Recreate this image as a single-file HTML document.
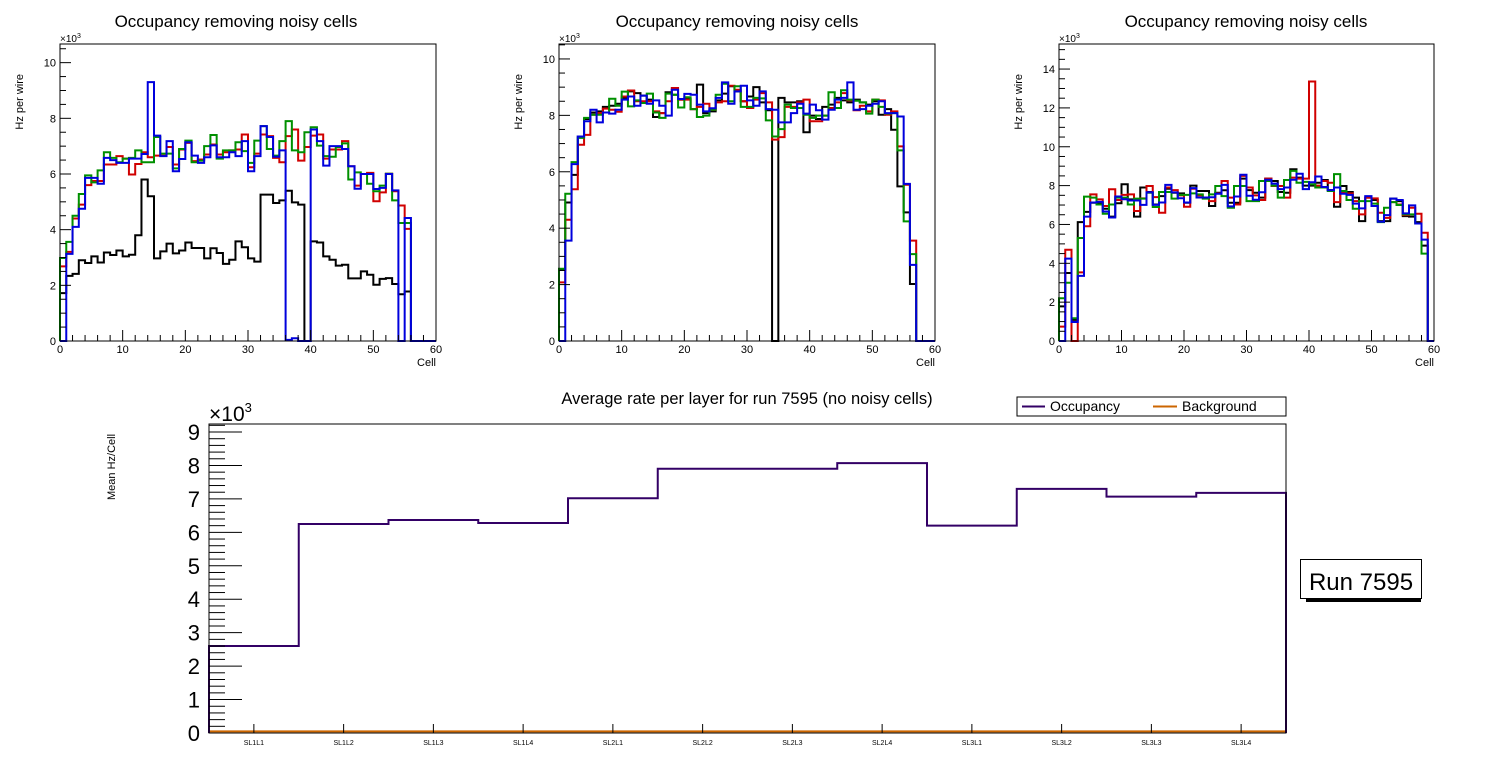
<!DOCTYPE html>
<html><head><meta charset="utf-8"><style>
body{margin:0;background:#fff;}
svg{display:block;font-family:"Liberation Sans",Arial,sans-serif;}
</style></head><body>
<svg id="root" width="1496" height="772" viewBox="0 0 1496 772" xmlns="http://www.w3.org/2000/svg"></svg>
<script>
// ---------- data ----------
const cells = Array.from({length:60},(_,i)=>i);
// Panel 1 (values in thousands of Hz per wire)
const p1Black=[1.72,2.34,2.41,2.9,2.8,3.04,2.82,3.18,3.09,3.25,3.04,3.1,3.8,5.8,5.2,2.97,3.22,3.5,3.15,3.25,3.54,3.34,3.34,2.97,3.33,3.16,2.77,2.92,3.58,3.37,2.97,2.85,5.26,5.26,4.96,5.05,5.4,4.98,4.9,0,3.58,3.54,3.04,2.92,2.71,2.74,2.25,2.25,2.5,2.38,2.02,2.23,2.26,2.05,1.68,1.78,0,0,0,0];
const p1Red=[2.68,3.2,4.4,4.9,5.6,5.75,5.75,6.34,6.34,6.64,6.55,5.98,6.36,6.78,6.6,6.66,6.66,6.97,6.34,6.88,7.12,6.46,6.52,6.7,7.06,6.7,6.78,6.85,6.88,7.42,6.24,6.73,7.42,7.36,6.58,6.42,7.36,7.6,6.48,6.97,7.38,7.42,6.55,6.88,6.88,7.18,6.28,5.58,6.0,6.04,5.02,5.34,6.01,5.38,4.87,4.03,0,0,0,0];
const p1Green=[2.98,3.56,4.5,5.28,5.95,5.7,6.13,6.78,6.58,6.42,6.55,6.58,6.85,6.42,6.42,7.33,6.73,6.73,6.2,6.9,7.2,6.42,6.48,7.0,7.4,6.55,6.85,6.85,7.14,6.82,6.4,7.2,7.72,6.9,6.66,7.18,7.9,6.85,6.78,7.5,7.68,7.02,6.64,6.62,6.97,7.1,5.8,6.06,6.0,5.65,5.38,5.58,6.01,5.05,4.24,4.24,0,0,0,0];
const p1Blue=[0,3.13,4.1,4.75,5.86,5.86,5.65,6.58,6.5,6.4,6.4,6.55,6.55,6.72,9.3,7.38,6.64,7.18,6.1,6.54,7.14,6.66,6.4,6.6,7.03,6.6,6.6,6.78,6.64,7.18,6.1,6.64,7.72,7.33,6.62,6.85,0.04,0.1,0,0,7.6,7.18,6.3,7.0,7.0,6.9,6.28,5.47,6.0,6.0,5.46,5.5,6.0,5.41,0,4.42,0,0,0,0];
// Panel 2
const p2Black=[2.52,4.91,5.89,7.25,7.87,8.1,8.14,8.3,8.34,8.41,8.62,8.85,8.79,8.7,8.56,7.94,8.08,8.82,8.73,8.56,8.58,8.22,9.09,8.08,8.14,8.53,8.77,9.03,8.85,8.5,8.67,9.0,8.46,8.18,0,8.62,8.46,8.46,8.5,7.4,7.99,7.87,8.3,8.38,8.62,8.53,8.46,8.56,8.46,8.38,8.5,8.02,8.22,7.49,5.48,4.56,2.02,0,0,0];
const p2Red=[2.08,4.3,5.38,6.96,7.31,8.02,8.08,8.24,8.2,8.13,8.67,8.88,8.5,8.5,8.5,8.14,8.08,8.5,8.97,8.56,8.56,8.22,8.3,8.41,8.2,8.46,8.5,9.05,8.91,8.5,8.26,8.56,8.79,8.46,7.14,7.23,8.3,8.3,8.46,8.56,7.79,7.79,7.99,8.26,8.46,8.79,8.53,8.18,8.34,8.14,8.56,8.53,8.02,8.14,6.9,5.54,3.56,0,0,0];
const p2Green=[2.56,5.22,6.34,7.2,7.91,8.02,8.02,8.1,8.59,8.34,8.84,8.32,8.53,8.44,8.77,8.1,7.91,8.77,8.73,8.28,8.64,8.22,7.94,7.99,8.2,8.73,9.12,8.5,9.03,8.3,8.3,8.62,8.6,7.82,7.25,7.51,8.38,8.26,8.26,8.02,7.91,7.99,7.99,8.82,8.26,8.89,8.56,8.52,8.46,8.06,8.56,8.3,8.06,8.08,6.76,4.24,3.08,0,0,0];
const p2Blue=[0,3.56,6.27,7.25,7.79,8.2,7.75,8.1,8.06,8.2,8.56,8.67,8.34,8.7,8.41,8.53,8.34,7.99,8.91,8.58,8.76,8.73,8.38,8.14,8.25,8.62,9.17,8.41,8.85,9.05,8.53,8.34,8.85,8.22,8.2,7.75,7.75,8.08,8.41,8.06,8.38,8.18,7.85,8.2,8.56,8.62,9.17,8.2,8.22,8.34,8.41,8.5,8.08,8.08,7.96,5.57,2.7,0,0,0];
// Panel 3
const p3Black=[1.78,3.5,1.09,6.12,6.65,7.12,7.12,6.81,6.4,7.09,8.07,7.29,6.4,7.9,7.67,7.03,7.46,7.84,7.63,7.6,7.12,8.0,7.72,7.72,6.95,7.63,7.76,7.12,7.12,8.36,7.77,7.63,7.38,8.36,8.24,7.67,7.63,8.84,8.41,8.0,8.0,8.15,8.29,7.77,6.91,7.98,7.67,7.38,6.17,7.38,7.26,6.17,6.17,7.33,7.2,6.43,6.4,6.12,4.91,0];
const p3Red=[0.74,4.7,0,3.53,5.91,7.55,7.29,6.95,7.81,7.26,7.52,7.55,6.69,7.34,7.98,7.41,6.6,7.9,7.77,7.5,6.91,7.84,7.5,7.38,7.2,7.6,8.24,7.38,7.03,8.5,7.9,7.5,7.26,8.36,7.98,7.98,7.38,8.41,8.36,8.36,13.36,8.0,8.24,8.15,7.15,7.67,7.6,7.2,6.52,7.38,7.34,6.6,6.34,7.15,7.03,6.48,6.86,6.55,5.57,0];
const p3Green=[2.2,3.0,1.17,5.3,7.43,7.38,7.03,6.55,7.03,7.38,7.38,7.03,7.33,7.33,7.63,6.9,7.67,7.67,7.33,7.52,7.52,7.6,7.55,7.33,7.55,7.98,7.46,6.86,7.98,7.98,7.2,7.2,8.24,8.24,8.0,7.38,8.29,8.76,8.15,8.19,8.07,7.9,7.9,7.72,8.59,7.72,7.26,6.81,7.2,7.2,7.07,6.12,6.86,7.15,7.0,6.52,6.52,6.05,4.5,0];
const p3Blue=[0,4.24,0.98,3.35,6.4,7.13,7.16,6.67,6.36,7.44,7.3,7.23,7.23,7.01,7.66,7.01,7.13,8.04,7.65,7.35,7.13,7.87,7.39,7.39,7.4,7.58,8.04,6.93,7.44,8.56,7.48,7.27,7.66,8.3,8.1,7.82,7.9,8.3,8.61,7.82,8.17,8.47,7.93,7.77,7.9,7.58,7.52,7.07,6.83,7.46,6.95,6.14,6.48,7.33,7.26,6.57,6.98,6.05,5.22,0];
// Bottom chart
const layers=["SL1L1","SL1L2","SL1L3","SL1L4","SL2L1","SL2L2","SL2L3","SL2L4","SL3L1","SL3L2","SL3L3","SL3L4"];
const occupancy=[2.6,6.25,6.37,6.28,7.02,7.9,7.9,8.07,6.2,7.3,7.07,7.18];
const background=[0.05,0.05,0.05,0.05,0.05,0.05,0.05,0.05,0.05,0.05,0.05,0.05];
const bottomTicks=[0,1,2,3,4,5,6,7,8,9];

// ---------- helpers ----------
const NS="http://www.w3.org/2000/svg";
const root=document.getElementById('root');
function el(tag,attrs,parent,text){const e=document.createElementNS(NS,tag);for(const k in attrs)e.setAttribute(k,attrs[k]);if(text!==undefined)e.textContent=text;(parent||root).appendChild(e);return e;}
function histPath(vals,xs,ys,x0){let d='M'+xs(x0)+','+ys(0);vals.forEach((v,i)=>{d+=' L'+xs(x0+i)+','+ys(v)+' L'+xs(x0+i+1)+','+ys(v);});d+=' L'+xs(x0+vals.length)+','+ys(0);return d;}

function panel(idx,F,titleX,ymax,yMajor,yLabels,series){
  const g=el('g',{});
  
  
  const xs=v=>F.l+(F.r-F.l)*v/60, ys=v=>F.b-(F.b-F.t)*v/ymax;
  const t=el('text',{x:titleX,y:27,'font-size':17,'text-anchor':'middle'},g,'Occupancy removing noisy cells');
  
  
  series.forEach(s=>{
    const p=el('path',{d:histPath(s.v,xs,ys,0),fill:'none',stroke:s.c,'stroke-width':2},g);
    
    
  });
  el('rect',{x:F.l,y:F.t,width:F.r-F.l,height:F.b-F.t,fill:'none',stroke:'#000','stroke-width':1},g);
  for(let v=0;v<=ymax+1e-9;v+=0.5){const major=Math.abs(v/yMajor-Math.round(v/yMajor))<1e-6;el('line',{x1:F.l,x2:F.l+(major?11:6),y1:ys(v),y2:ys(v),stroke:'#000','stroke-width':1},g);}
  yLabels.forEach(v=>{const tl=el('text',{x:F.l-4,y:ys(v)+4,'font-size':11,'text-anchor':'end'},g,String(v));});
  for(let v=0;v<=60;v+=2){const major=v%10===0;el('line',{x1:xs(v),x2:xs(v),y1:F.b,y2:F.b-(major?11:6),stroke:'#000','stroke-width':1},g);}
  [0,10,20,30,40,50,60].forEach(v=>{const tl=el('text',{x:xs(v),y:F.b+12,'font-size':11,'text-anchor':'middle'},g,String(v));});
  const ex=el('text',{x:F.l,y:F.t-2,'font-size':10},g,'×10');el('tspan',{dy:-4,'font-size':7},ex,'3');
  
  const xl=el('text',{x:F.r,y:F.b+25,'font-size':11,'text-anchor':'end'},g,'Cell');
  
  const yx=F.l-37,yy=F.t+30;
  const yl=el('text',{x:yx,y:yy,'font-size':11,'text-anchor':'end',transform:'rotate(-90 '+yx+' '+yy+')'},g,'Hz per wire');
  
}
const C={k:'#000',r:'#d00000',g:'#009000',b:'#0000dd'};
panel(1,{l:60,r:436,t:44,b:341},236,10.67,2,[0,2,4,6,8,10],[{v:p1Black,c:C.k,n:'layer1-series'},{v:p1Red,c:C.r,n:'layer2-series'},{v:p1Green,c:C.g,n:'layer3-series'},{v:p1Blue,c:C.b,n:'layer4-series'}]);
panel(2,{l:559,r:935,t:44,b:341},737,10.53,2,[0,2,4,6,8,10],[{v:p2Black,c:C.k,n:'layer1-series'},{v:p2Red,c:C.r,n:'layer2-series'},{v:p2Green,c:C.g,n:'layer3-series'},{v:p2Blue,c:C.b,n:'layer4-series'}]);
panel(3,{l:1059,r:1434,t:44,b:341},1246,15.29,2,[0,2,4,6,8,10,12,14],[{v:p3Black,c:C.k,n:'layer1-series'},{v:p3Red,c:C.r,n:'layer2-series'},{v:p3Green,c:C.g,n:'layer3-series'},{v:p3Blue,c:C.b,n:'layer4-series'}]);

// ---------- bottom chart ----------
(function(){
  const F={l:209,r:1286,t:424,b:733},ymax=9.24;
  const g=el('g',{});
  
  
  const n=layers.length;
  const xs=v=>F.l+(F.r-F.l)*v/n, ys=v=>F.b-(F.b-F.t)*v/ymax;
  const t=el('text',{x:747,y:404,'font-size':16.5,'text-anchor':'middle'},g,'Average rate per layer for run 7595 (no noisy cells)');
  
  const bp=el('path',{d:histPath(background,xs,ys,0),fill:'none',stroke:'#cc6600','stroke-width':2},g);
  
  const op=el('path',{d:histPath(occupancy,xs,ys,0),fill:'none',stroke:'#330066','stroke-width':2},g);
  
  el('rect',{x:F.l,y:F.t,width:F.r-F.l,height:F.b-F.t,fill:'none',stroke:'#000','stroke-width':1},g);
  for(let v=0;v<=ymax+1e-9;v+=0.2){const major=Math.abs(v-Math.round(v))<1e-6;el('line',{x1:F.l,x2:F.l+(major?33:16),y1:ys(v),y2:ys(v),stroke:'#000','stroke-width':1},g);}
  bottomTicks.forEach(v=>{const tl=el('text',{x:F.l-9,y:ys(v)+8,'font-size':22,'text-anchor':'end'},g,String(v));});
  layers.forEach((lab,i)=>{const cx=xs(i+0.5);el('line',{x1:cx,x2:cx,y1:F.b,y2:F.b-9,stroke:'#000','stroke-width':1},g);
    const tl=el('text',{x:cx,y:F.b+12,'font-size':7,'text-anchor':'middle'},g,lab);});
  const ex=el('text',{x:F.l,y:F.t-3,'font-size':21},g,'×10');el('tspan',{dy:-9,'font-size':13},ex,'3');
  
  const yl=el('text',{x:115,y:500,'font-size':11,'text-anchor':'start',transform:'rotate(-90 115 500)'},g,'Mean Hz/Cell');
  
  const lg=el('g',{},g);
  
  el('rect',{x:1017,y:397,width:269,height:19,fill:'#fff',stroke:'#000','stroke-width':1},lg);
  el('line',{x1:1022,x2:1045,y1:406.5,y2:406.5,stroke:'#330066','stroke-width':2},lg);
  const l1=el('text',{x:1050,y:411,'font-size':14},lg,'Occupancy');
  el('line',{x1:1153,x2:1177,y1:406.5,y2:406.5,stroke:'#cc6600','stroke-width':2},lg);
  const l2=el('text',{x:1182,y:411,'font-size':14},lg,'Background');
  const rb=el('g',{});
  
  el('rect',{x:1306,y:598,width:115,height:4,fill:'#000'},rb);
  el('rect',{x:1300.5,y:559.5,width:121,height:39,fill:'#fff',stroke:'#000','stroke-width':1},rb);
  el('text',{x:1361,y:590,'font-size':24,'text-anchor':'middle'},rb,'Run 7595');
})();
</script>
</body></html>
